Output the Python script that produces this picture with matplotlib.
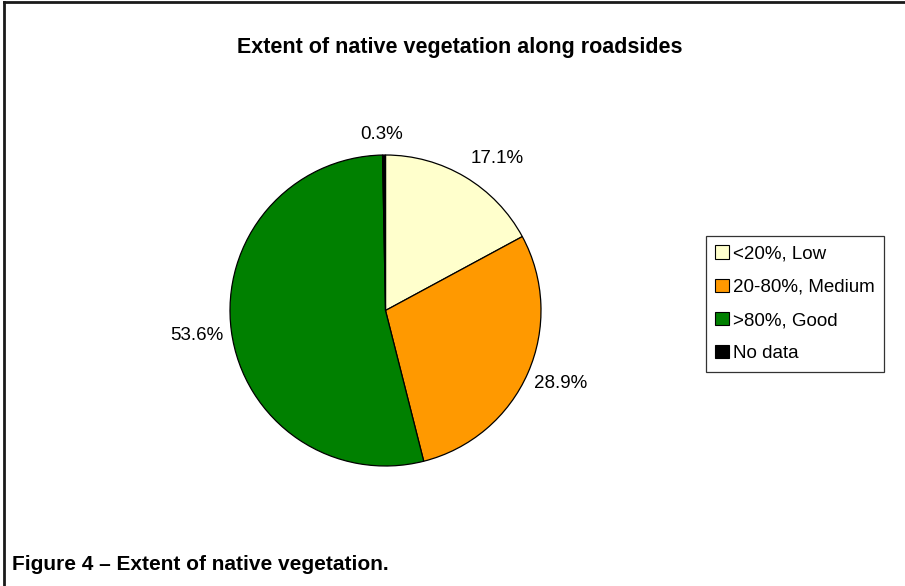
import matplotlib.pyplot as plt
import numpy as np
from matplotlib.lines import Line2D
from matplotlib.patches import Patch

categories = ['<20%, Low', '20-80%, Medium', '>80%, Good', 'No data']
shares = [17.1, 28.9, 53.6, 0.3]
colours = ['#FFFFCC', '#FF9900', '#008000', '#000000']

plt.rcParams['font.family'] = ['Liberation Sans', 'DejaVu Sans']

W, H = 905, 586
fig = plt.figure(figsize=(W / 100, H / 100), dpi=100)

# pie axes: centre (385, 311) px, radius 155.5 px
cx, cy, r = 385.5, 310.5, 155.5
ax = fig.add_axes([(cx - r) / W, (H - cy - r) / H, 2 * r / W, 2 * r / H])
wedges, _ = ax.pie(shares, colors=colours, startangle=90, counterclock=False,
                   radius=1.0, wedgeprops=dict(edgecolor='black', linewidth=0.9))
ax.set_xlim(-1, 1)
ax.set_ylim(-1, 1)
ax.set_aspect('equal')
ax.axis('off')

# percentage labels outside each slice: (distance in radii, angular nudge in degrees)
label_place = [(1.21, -5.5), (1.223, 1.0), (1.224, 0.0), (1.129, 0.6)]
for w, v, (d, nudge) in zip(wedges, shares, label_place):
    ang = np.deg2rad((w.theta1 + w.theta2) / 2 + nudge)
    ax.text(d * np.cos(ang), d * np.sin(ang), f'{v:.1f}%', ha='center', va='center',
            fontsize=13.5, clip_on=False)

fig.text(460 / W, 1 - 47 / H, 'Extent of native vegetation along roadsides',
         ha='center', va='center', fontsize=15.5, fontweight='bold')

handles = [Patch(facecolor=c, edgecolor='black', linewidth=0.8) for c in colours]
leg = fig.legend(handles, categories, loc='upper left',
                 bbox_to_anchor=(706 / W, 1 - 236 / H), frameon=True, fancybox=False,
                 fontsize=13.5, handlelength=0.7, handleheight=0.7, handletextpad=0.22,
                 labelspacing=0.86, borderpad=0.5, borderaxespad=0)
leg.get_frame().set_edgecolor('black')
leg.get_frame().set_linewidth(0.9)

fig.text(12 / W, 1 - 565 / H, 'Figure 4 \u2013 Extent of native vegetation.',
         ha='left', va='center', fontsize=15, fontweight='bold')

# page rules along the top and left edges
fig.add_artist(Line2D([4 / W, 1], [1 - 2 / H, 1 - 2 / H], color='#1a1a1a', linewidth=2,
                      transform=fig.transFigure))
fig.add_artist(Line2D([4 / W, 4 / W], [0, 1 - 2 / H], color='#1a1a1a', linewidth=2,
                      transform=fig.transFigure))

fig.savefig('out.png', dpi=100)
